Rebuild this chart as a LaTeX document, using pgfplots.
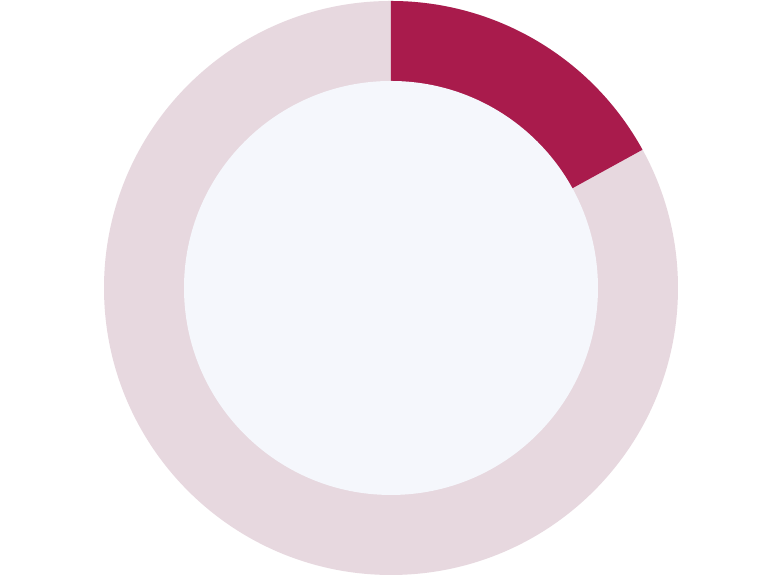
\documentclass[border=0pt]{standalone}
\usepackage{pgfplots}
\pgfplotsset{compat=1.18}
\usepackage{pgfplotstable}
\definecolor{segred}{HTML}{A91B4C}
\definecolor{segpink}{HTML}{E7D8DF}
\definecolor{holebg}{HTML}{F5F7FC}
\pgfplotstableread{
label value
A 17
B 83
}\donutdata
\pgfplotstablegetelem{0}{value}\of\donutdata
\pgfmathsetmacro\angA{90-360*\pgfplotsretval/100}
\begin{document}
\begin{tikzpicture}
\begin{axis}[
  hide axis, scale only axis,
  width=7.83cm, height=5.78cm,
  xmin=0, xmax=783, ymin=0, ymax=578,
  clip=false,
]
\fill[white] (axis cs:0,0) rectangle (axis cs:783,578);
\fill[segpink] (axis cs:391,290) circle[radius=2.87cm];
\fill[segred] (axis cs:391,290) -- ([shift={(90:2.87cm)}]axis cs:391,290)
  arc[start angle=90, end angle=\angA, radius=2.87cm] -- cycle;
\fill[holebg] (axis cs:391,290) circle[radius=2.07cm];
\end{axis}
\end{tikzpicture}
\end{document}
